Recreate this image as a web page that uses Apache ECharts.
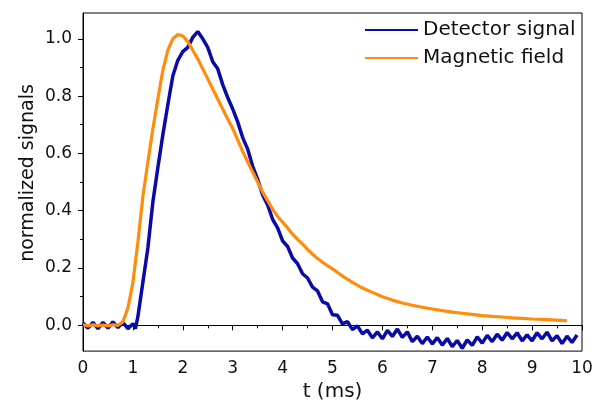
<!DOCTYPE html>
<html>
<head>
<meta charset="utf-8">
<script src="https://cdn.jsdelivr.net/npm/echarts@6/dist/echarts.min.js"></script>
<style>html,body{margin:0;padding:0;background:#fff}#c{width:602px;height:407px}</style>
</head>
<body>
<div id="c"></div>
<script>
var seriesNames = ['Detector signal', 'Magnetic field'];
var yTickValues = [0, 0.2, 0.4, 0.6, 0.8, 1.0];

var detectorTime = [0,0.1,0.2,0.3,0.4,0.5,0.6,0.7,0.8,0.9,1.0,1.05,1.1,1.2,1.3,1.4,1.5,1.6,1.7,1.8,1.9,2.0,2.1,2.2,2.3,2.4,2.5,2.6,2.7,2.8,2.9,3.0,3.1,3.2,3.3,3.4,3.5,3.6,3.7,3.8,3.9,4.0,4.1,4.2,4.3,4.4,4.5,4.6,4.7,4.8,4.9,5.0,5.1,5.2,5.3,5.4,5.5,5.6,5.7,5.8,5.9,6.0,6.1,6.2,6.3,6.4,6.5,6.6,6.7,6.8,6.9,7.0,7.1,7.2,7.3,7.4,7.5,7.6,7.7,7.8,7.9,8.0,8.1,8.2,8.3,8.4,8.5,8.6,8.7,8.8,8.9,9.0,9.1,9.2,9.3,9.4,9.5,9.6,9.7,9.8,9.9];
var detectorValue = [0.008,-0.010,0.010,-0.012,0.010,-0.010,0.012,-0.008,0.010,-0.012,0.006,-0.012,0.03,0.15,0.27,0.43,0.55,0.665,0.77,0.87,0.925,0.955,0.97,1.005,1.025,1.0,0.97,0.92,0.895,0.84,0.795,0.755,0.71,0.655,0.615,0.555,0.51,0.455,0.42,0.37,0.34,0.295,0.275,0.235,0.215,0.18,0.165,0.133,0.12,0.082,0.075,0.037,0.035,0.005,0.013,-0.015,-0.002,-0.03,-0.017,-0.044,-0.023,-0.047,-0.018,-0.039,-0.013,-0.042,-0.023,-0.057,-0.038,-0.064,-0.041,-0.065,-0.043,-0.069,-0.046,-0.074,-0.053,-0.08,-0.051,-0.07,-0.04,-0.062,-0.035,-0.057,-0.031,-0.052,-0.025,-0.047,-0.026,-0.054,-0.033,-0.054,-0.026,-0.047,-0.024,-0.054,-0.036,-0.064,-0.038,-0.060,-0.034];

var fieldTime = [0,0.1,0.2,0.3,0.4,0.5,0.6,0.7,0.8,0.9,1.0,1.1,1.2,1.3,1.4,1.5,1.6,1.7,1.8,1.9,2.0,2.1,2.2,2.3,2.4,2.5,2.6,2.7,2.8,2.9,3.0,3.1,3.2,3.3,3.4,3.5,3.6,3.7,3.8,3.9,4.0,4.1,4.2,4.3,4.4,4.5,4.6,4.7,4.8,4.9,5.0,5.2,5.4,5.6,5.8,6.0,6.2,6.4,6.6,6.8,7.0,7.2,7.4,7.6,7.8,8.0,8.2,8.4,8.6,8.8,9.0,9.2,9.4,9.6,9.7];
var fieldValue = [0.002,-0.002,0.002,-0.002,0.001,-0.002,0.002,0.0,0.012,0.06,0.15,0.29,0.45,0.57,0.685,0.79,0.89,0.96,1.0,1.015,1.01,0.99,0.96,0.93,0.895,0.86,0.825,0.79,0.755,0.72,0.687,0.647,0.607,0.57,0.535,0.50,0.465,0.435,0.405,0.38,0.36,0.34,0.318,0.30,0.283,0.265,0.248,0.233,0.22,0.208,0.197,0.172,0.15,0.13,0.115,0.10,0.088,0.078,0.07,0.063,0.057,0.051,0.046,0.042,0.038,0.034,0.031,0.029,0.026,0.024,0.022,0.021,0.019,0.017,0.016];

function pairs(t, v) { return t.map(function (x, i) { return [x, v[i]]; }); }

var FONT = 'DejaVu Sans';
var chart = echarts.init(document.getElementById('c'), null, {renderer: 'canvas'});
chart.setOption({
  animation: false,
  backgroundColor: '#ffffff',
  grid: {left: 83, right: 20, top: 13, bottom: 54, show: true, borderColor: '#000', borderWidth: 1, backgroundColor: 'transparent'},
  legend: {
    data: seriesNames,
    orient: 'vertical',
    left: 365, top: 20,
    padding: 0,
    icon: 'rect',
    itemWidth: 53, itemHeight: 2, itemGap: 8,
    textStyle: {fontFamily: FONT, fontSize: 20, color: '#111', lineHeight: 20}
  },
  xAxis: {
    type: 'value', min: 0, max: 10, interval: 1,
    name: 't (ms)', nameLocation: 'middle', nameGap: 30,
    nameTextStyle: {fontFamily: FONT, fontSize: 20, color: '#111'},
    axisLine: {show: true, lineStyle: {color: '#000', width: 1}},
    axisTick: {show: true, inside: false, length: 5, lineStyle: {color: '#000'}},
    minorTick: {show: true, splitNumber: 2, length: 3, lineStyle: {color: '#000'}},
    axisLabel: {fontFamily: FONT, fontSize: 17, color: '#111', margin: 9},
    splitLine: {show: false}
  },
  yAxis: {
    type: 'value', min: -0.09, max: 1.09, splitNumber: 5,
    axisLine: {show: true, lineStyle: {color: '#000', width: 1}},
    axisTick: {show: true, inside: false, length: 5, lineStyle: {color: '#000'}, customValues: yTickValues},
    minorTick: {show: true, splitNumber: 2, length: 3, lineStyle: {color: '#000'}},
    axisLabel: {fontFamily: FONT, fontSize: 17, color: '#111', margin: 11, customValues: yTickValues,
      formatter: function (v) { return v.toFixed(1); }},
    splitLine: {show: false}
  },
  graphic: [{
    type: 'text', x: 28, y: 173, rotation: Math.PI / 2,
    style: {text: 'normalized signals', fontFamily: FONT, fontSize: 19, fill: '#111', align: 'center', verticalAlign: 'middle'}
  }],
  series: [
    {name: seriesNames[0], type: 'line', data: pairs(detectorTime, detectorValue), showSymbol: false, symbol: 'none',
     lineStyle: {color: '#0a0aa8', width: 3.5}, itemStyle: {color: '#0a0aa8'}, z: 2},
    {name: seriesNames[1], type: 'line', data: pairs(fieldTime, fieldValue), showSymbol: false, symbol: 'none',
     lineStyle: {color: '#ff8c0a', width: 3.2}, itemStyle: {color: '#ff8c0a'}, z: 3}
  ]
});
</script>
</body>
</html>
